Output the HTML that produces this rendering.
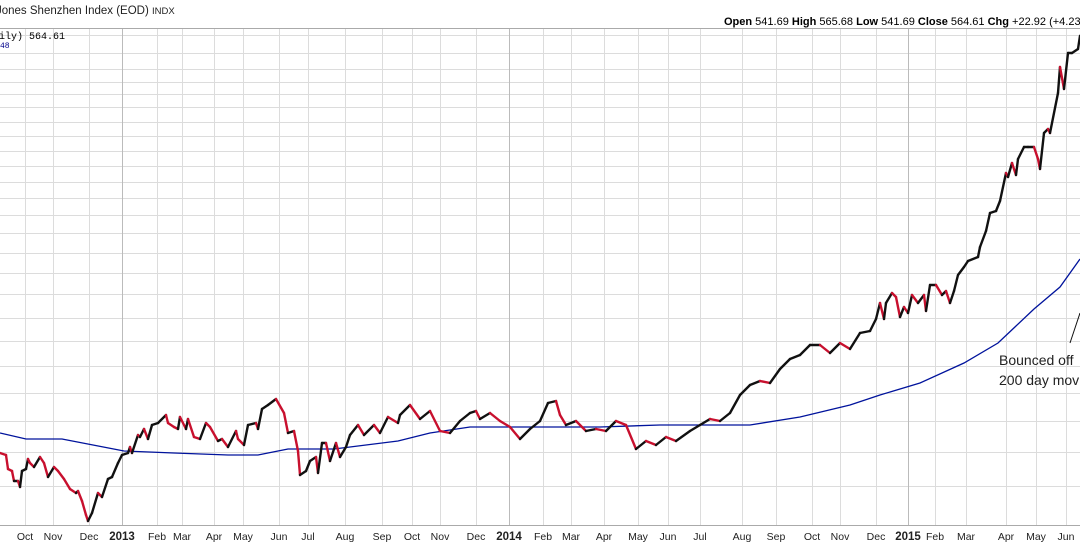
<!DOCTYPE html>
<html><head><meta charset="utf-8"><style>
body{margin:0;background:#fff;width:1080px;height:546px;overflow:hidden;font-family:"Liberation Sans",sans-serif}
svg{display:block}
</style></head><body>
<svg id="c" width="1080" height="546">
<text x="-4" y="14" font-size="11.5" fill="#222">Jones Shenzhen Index (EOD) <tspan font-size="9.5">INDX</tspan></text>
<text x="1080" y="12" font-size="10.5" fill="#666">© StockCharts.com</text>
<text x="724" y="25" font-size="11" fill="#000"><tspan font-weight="bold">Open</tspan> 541.69 <tspan font-weight="bold">High</tspan> 565.68 <tspan font-weight="bold">Low</tspan> 541.69 <tspan font-weight="bold">Close</tspan> 564.61 <tspan font-weight="bold">Chg</tspan> +22.92 (+4.23%)</text>
<g id="grid"></g>
<line x1="0" y1="28.5" x2="1080" y2="28.5" stroke="#aaa"/>
<line x1="0" y1="525.5" x2="1080" y2="525.5" stroke="#aaa"/>
<g id="ma"></g>
<g id="price"></g>
<g id="xlabels"></g>
<text x="-1" y="39" font-family="Liberation Mono,monospace" font-size="10" fill="#000">ily) 564.61</text>
<text x="0" y="48" font-family="Liberation Mono,monospace" font-size="8" fill="#00008b">48</text>
<line x1="1070" y1="343" x2="1080" y2="313" stroke="#111" stroke-width="1"/>
<text x="999" y="365" font-size="14" fill="#222">Bounced off</text>
<text x="999" y="385" font-size="14" fill="#222">200 day moving average</text>
</svg>
<script>
const priceSessions=[0,3,4,6,7,9,10,11,13,14,15,17,20,22,24,27,29,32,35,38,39,41,43,44,46,49,51,54,56,59,61,64,65,66,69,70,72,74,76,79,83,84,87,89,90,93,94,97,100,103,105,109,111,114,118,119,122,124,128,129,131,134,138,142,144,147,149,150,153,155,158,159,161,163,165,168,170,173,175,179,182,187,190,194,199,200,205,210,215,220,225,230,235,238,240,245,250,255,260,265,270,274,278,280,283,288,293,298,303,308,313,318,323,328,333,338,345,350,355,360,365,370,375,380,385,390,395,400,405,410,415,420,425,430,435,438,440,442,443,446,448,450,452,454,456,459,462,463,465,468,471,473,475,477,479,482,484,489,490,493,495,498,500,503,504,506,508,509,512,514,517,519,520,522,524,525,529,530,532,534,536,539,540];
const priceValues=[356,355,348,347,342,342,339,347,348,353,351,349,354,351,344,349,347,343,338,336,337,332,325,322,326,336,334,343,344,351,355,356,359,356,365,364,368,363,370,371,375,371,369,368,374,368,373,364,363,371,369,362,363,359,367,363,360,370,371,368,378,380,383,376,366,367,357,345,347,352,354,346,361,361,352,361,354,359,365,370,365,370,366,374,371,375,380,373,377,367,366,372,376,377,373,376,372,369,363,368,372,381,382,375,370,372,367,368,367,372,370,358,362,360,364,362,367,370,373,372,376,385,390,392,391,398,403,405,410,410,406,411,408,416,417,423,431,423,431,436,434,424,429,426,435,431,435,427,440,440,435,437,431,437,445,449,452,454,459,467,476,477,482,496,494,501,495,503,509,509,509,503,498,516,518,516,536,549,538,556,556,558,564.61];
const maSessions=[0,13,31,62,87,114,129,144,167,199,215,235,260,300,330,375,400,425,440,460,482,499,517,530,540];
const maValues=[366,363,363,357,356,355,355,358,358,362,366,369,369,369,370,370,374,380,385,391,401,411,428,439,453];
const monthLabels=["Oct","Nov","Dec","2013","Feb","Mar","Apr","May","Jun","Jul","Aug","Sep","Oct","Nov","Dec","2014","Feb","Mar","Apr","May","Jun","Jul","Aug","Sep","Oct","Nov","Dec","2015","Feb","Mar","Apr","May","Jun"];
const monthSessions=[12.5,26.5,44.5,61,78.5,91,107,121.5,139.5,154,172.5,191,206,220,238,254.5,271.5,285.5,302,319,334,350,371,388,406,420,438,454,467.5,483,503,518,533];
const gridYs=[35,53,69,82,94,107,122,136,151,166,182,198,215,233,253,273,294,318,341,366,393,421,452,486];
const NS="http://www.w3.org/2000/svg";
function sx(s){return s*2;}
function y(p){return 1165-2*p;}
function mk(tag,attrs,parent){const e=document.createElementNS(NS,tag);for(const k in attrs)e.setAttribute(k,attrs[k]);parent.appendChild(e);return e;}
const grid=document.getElementById('grid');
gridYs.forEach(g=>{const l=mk('line',{x1:0,x2:1080,y1:g+.5,y2:g+.5,stroke:'#dcdcdc'},grid);

});
const xl=document.getElementById('xlabels');
monthLabels.forEach((m,i)=>{const x=sx(monthSessions[i]);const yr=/^\d{4}$/.test(m);
const l=mk('line',{x1:x+.5,x2:x+.5,y1:28,y2:525,stroke:yr?'#bbb':'#dcdcdc'},grid);


const t=mk('text',{x:x,y:540,'text-anchor':'middle','font-size':yr?'11.5':'10.5','font-weight':yr?'bold':'normal',fill:'#222'},xl);
t.textContent=m;

});
const ma=document.getElementById('ma');
const mp=mk('polyline',{points:maSessions.map((s,i)=>sx(s)+','+y(maValues[i])).join(' '),fill:'none',stroke:'#00139c','stroke-width':1.3},ma);


const pg=document.getElementById('price');
for(let i=1;i<priceSessions.length;i++){const a=priceValues[i-1],b=priceValues[i];
const l=mk('line',{x1:sx(priceSessions[i-1]),y1:y(a),x2:sx(priceSessions[i]),y2:y(b),stroke:b<a?'#c8102e':'#111','stroke-width':2.4,'stroke-linecap':'round'},pg);

}
</script>
</body></html>
